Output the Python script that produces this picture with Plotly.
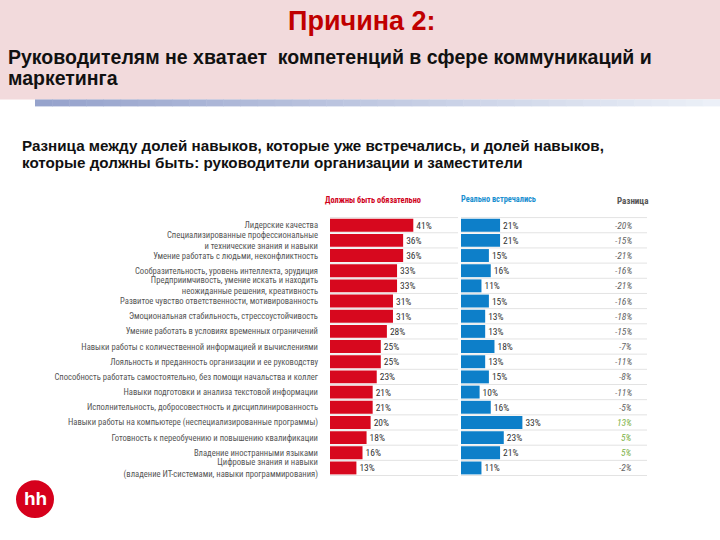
import plotly.graph_objects as go

categories = [
    "Лидерские качества",
    "Специализированные профессиональные<br>и технические знания и навыки",
    "Умение работать с людьми, неконфликтность",
    "Сообразительность, уровень интеллекта, эрудиция",
    "Предприимчивость, умение искать и находить<br>неожиданные решения, креативность",
    "Развитое чувство ответственности, мотивированность",
    "Эмоциональная стабильность, стрессоустойчивость",
    "Умение работать в условиях временных ограничений",
    "Навыки работы с количественной информацией и вычислениями",
    "Лояльность и преданность организации и ее руководству",
    "Способность работать самостоятельно, без помощи начальства и коллег",
    "Навыки подготовки и анализа текстовой информации",
    "Исполнительность, добросовестность и дисциплинированность",
    "Навыки работы на компьютере (неспециализированные программы)",
    "Готовность к переобучению и повышению квалификации",
    "Владение иностранными языками",
    "Цифровые знания и навыки<br>(владение ИТ-системами, навыки программирования)",
]
must_have = [41, 36, 36, 33, 33, 31, 31, 28, 25, 25, 23, 21, 21, 20, 18, 16, 13]
actually_met = [21, 21, 15, 16, 11, 15, 13, 13, 18, 13, 15, 10, 16, 33, 23, 21, 11]
difference = [-20, -15, -21, -16, -21, -16, -18, -15, -7, -11, -8, -11, -5, 13, 5, 5, -2]

W, H = 720, 540
def px(x):
    return x / W
def py(y):
    return 1 - y / H

RED = "#d7081e"
BLUE = "#0d7fc9"
LABEL_FONT = "Roboto Condensed, Roboto, sans-serif"
HEAD_FONT = "Liberation Sans, Arial, sans-serif"

fig = go.Figure()

fig.add_trace(go.Bar(
    y=categories, x=must_have, orientation="h",
    marker=dict(color=RED, line=dict(width=0)),
    text=[f"{v}%" for v in must_have], textposition="outside",
    textfont=dict(size=9.5, color="#333", family=LABEL_FONT),
    cliponaxis=False, xaxis="x", yaxis="y", showlegend=False,
))
fig.add_trace(go.Bar(
    y=categories, x=actually_met, orientation="h",
    marker=dict(color=BLUE, line=dict(width=0)),
    text=[f"{v}%" for v in actually_met], textposition="outside",
    textfont=dict(size=9.5, color="#333", family=LABEL_FONT),
    cliponaxis=False, xaxis="x2", yaxis="y2", showlegend=False,
))

y_dom = [py(478.7), py(218.3)]
fig.update_layout(
    width=W, height=H,
    margin=dict(l=0, r=0, t=0, b=0),
    paper_bgcolor="white", plot_bgcolor="rgba(0,0,0,0)",
    bargap=0.15,
    xaxis=dict(domain=[px(330), px(458)], range=[0, 63], visible=False, fixedrange=True),
    yaxis=dict(domain=y_dom, autorange="reversed", type="category",
               showgrid=False, zeroline=False, showline=False, ticks="",
               ticklabelstandoff=11, fixedrange=True,
               tickfont=dict(size=8.6, color="#555", family=LABEL_FONT)),
    xaxis2=dict(domain=[px(461), px(647)], range=[0, 100], visible=False, fixedrange=True),
    yaxis2=dict(domain=y_dom, autorange="reversed", type="category", fixedrange=True,
                anchor="x2", showticklabels=False, showgrid=False,
                zeroline=False, showline=False, ticks=""),
)

shapes = []
shapes.append(dict(type="rect", xref="paper", yref="paper", x0=0, x1=1,
                   y0=py(100), y1=1, fillcolor="#f2dadc", line=dict(width=0), layer="below"))
n = 40
x_start, x_end = 35, 720
c0 = (150, 163, 204)
c1 = (236, 240, 248)
for i in range(n):
    t = i / (n - 1)
    c = tuple(int(c0[k] + (c1[k] - c0[k]) * t) for k in range(3))
    xa = x_start + (x_end - x_start) * i / n
    xb = x_start + (x_end - x_start) * (i + 1) / n + 0.5
    shapes.append(dict(type="rect", xref="paper", yref="paper", x0=px(xa), x1=px(xb),
                       y0=py(107), y1=py(100), fillcolor=f"rgb{c}", line=dict(width=0), layer="below"))
for i in range(len(categories) + 1):
    for xr, yr in (("x domain", "y"), ("x2 domain", "y2")):
        shapes.append(dict(type="line", xref=xr, yref=yr, x0=0, x1=1,
                           y0=i - 0.5, y1=i - 0.5, line=dict(color="#e3e3e3", width=1), layer="below"))
shapes.append(dict(type="circle", xref="paper", yref="paper", x0=px(16), x1=px(54),
                   y0=py(521), y1=py(483), fillcolor="#d6001c", line=dict(width=0)))
fig.update_layout(shapes=shapes)

ann = []
ann.append(dict(text="<b>Причина 2:</b>", x=px(362), y=py(21), xref="paper", yref="paper",
                xanchor="center", yanchor="middle", showarrow=False,
                font=dict(size=27, color="#c00000", family=HEAD_FONT)))
ann.append(dict(text="<b>Руководителям не хватает  компетенций в сфере коммуникаций и</b>",
                x=px(6), y=py(57), xref="paper", yref="paper", xanchor="left", yanchor="middle",
                align="left", showarrow=False,
                font=dict(size=19.5, color="#111", family=HEAD_FONT)))
ann.append(dict(text="<b>маркетинга</b>",
                x=px(6), y=py(78), xref="paper", yref="paper", xanchor="left", yanchor="middle",
                align="left", showarrow=False,
                font=dict(size=19.5, color="#111", family=HEAD_FONT)))
ann.append(dict(text="<b>Разница между долей навыков, которые уже встречались, и долей навыков,</b>",
                x=px(20), y=py(146), xref="paper", yref="paper", xanchor="left", yanchor="middle",
                showarrow=False, font=dict(size=15.2, color="#111", family=HEAD_FONT)))
ann.append(dict(text="<b>которые должны быть: руководители организации и заместители</b>",
                x=px(20), y=py(163), xref="paper", yref="paper", xanchor="left", yanchor="middle",
                showarrow=False, font=dict(size=15.2, color="#111", family=HEAD_FONT)))
ann.append(dict(text="<b>Должны быть обязательно</b>", x=px(373), y=py(201), xref="paper", yref="paper",
                xanchor="center", yanchor="middle", showarrow=False,
                font=dict(size=8.3, color="#d0021b", family=LABEL_FONT)))
ann.append(dict(text="<b>Реально встречались</b>", x=px(459), y=py(200), xref="paper", yref="paper",
                xanchor="left", yanchor="middle", showarrow=False,
                font=dict(size=8.3, color="#1a8fd0", family=LABEL_FONT)))
ann.append(dict(text="<b>Разница</b>", x=px(633), y=py(202), xref="paper", yref="paper",
                xanchor="center", yanchor="middle", showarrow=False,
                font=dict(size=9, color="#555", family=LABEL_FONT)))
for cat, d in zip(categories, difference):
    ann.append(dict(text=f"<i>{d}%</i>", x=px(634), y=cat, xref="paper", yref="y",
                    xanchor="right", yanchor="middle", showarrow=False,
                    font=dict(size=9.5, color="#7fb24a" if d > 0 else "#666", family=LABEL_FONT)))
ann.append(dict(text="<b>hh</b>", x=px(35), y=py(501), xref="paper", yref="paper",
                xanchor="center", yanchor="middle", showarrow=False,
                font=dict(size=19, color="white", family=HEAD_FONT)))
fig.update_layout(annotations=ann)

fig.write_html("out.html", config={"displayModeBar": False},
               post_script="document.body.style.margin='0';")
